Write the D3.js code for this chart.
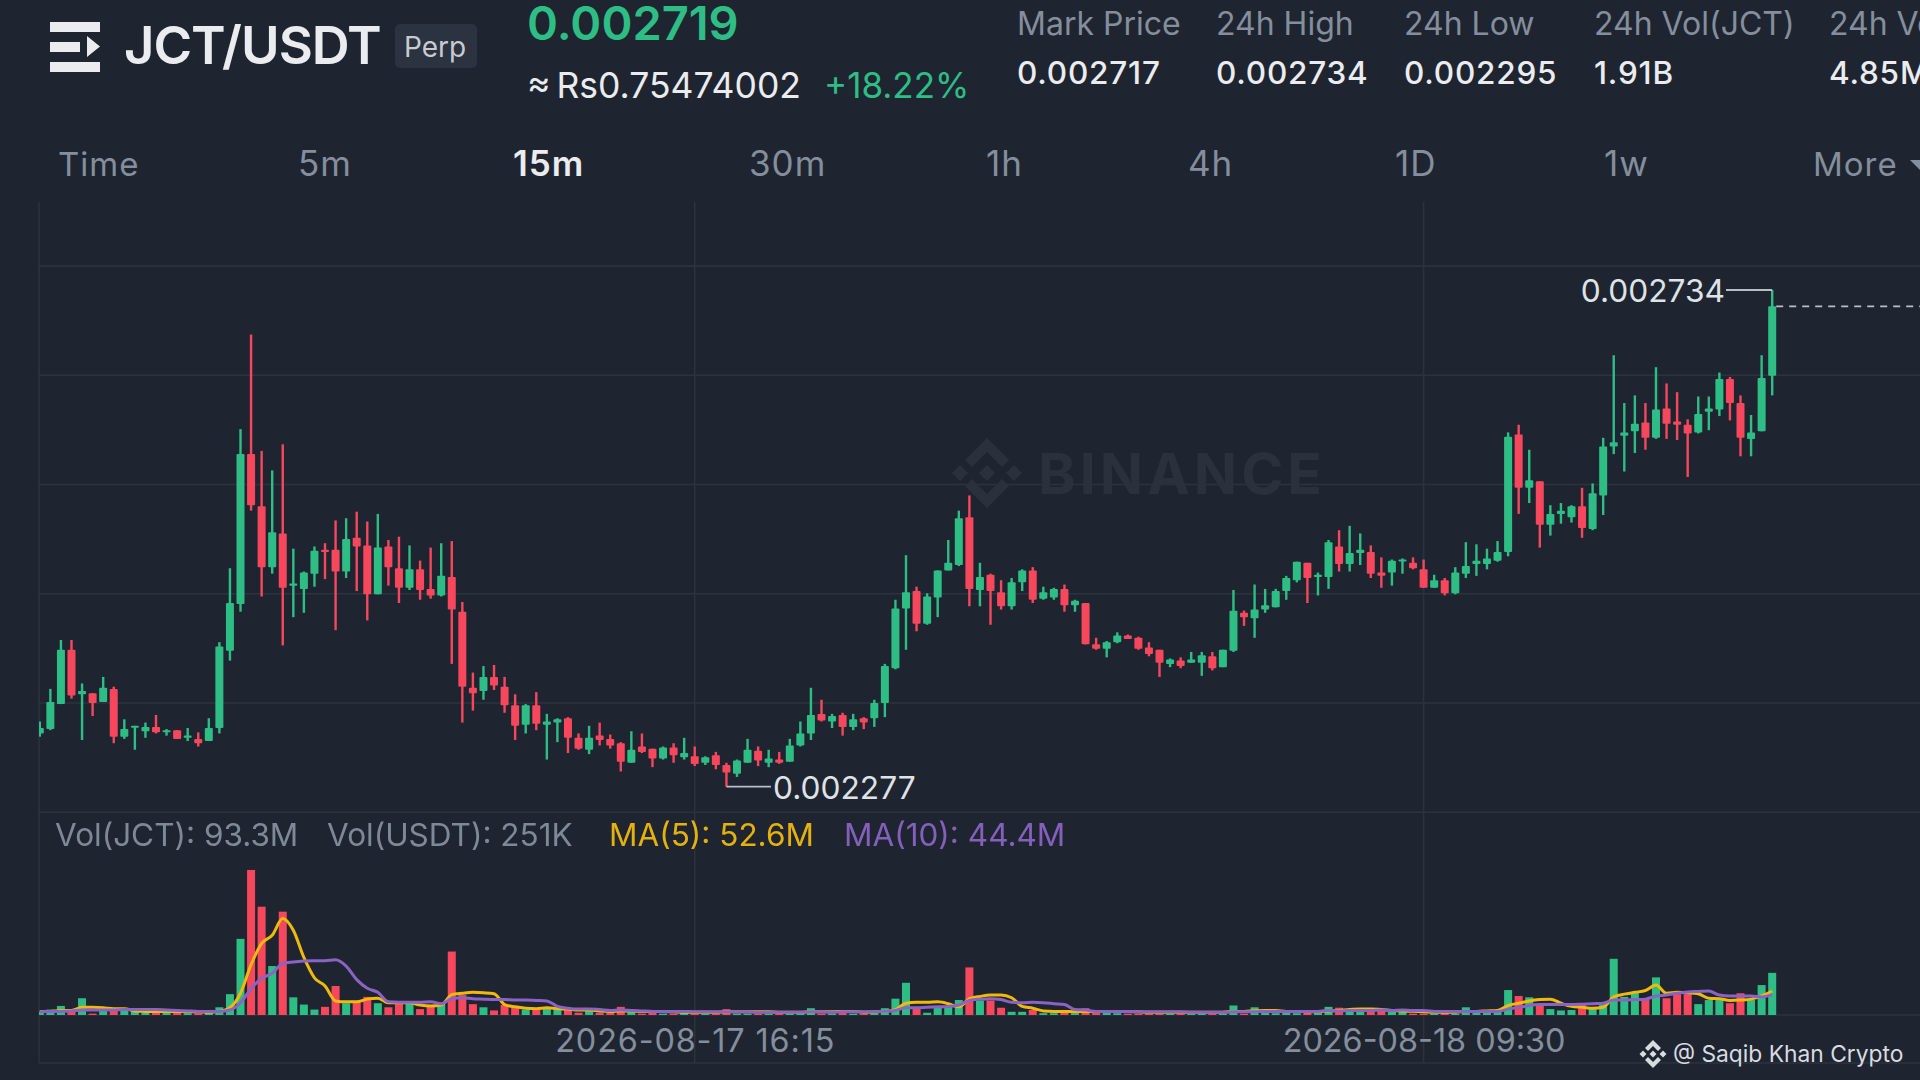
<!DOCTYPE html>
<html><head><meta charset="utf-8">
<script src="https://cdn.jsdelivr.net/npm/d3@7/dist/d3.min.js"></script>
<style>html,body{margin:0;padding:0;background:#1e2530;overflow:hidden}svg{display:block}text{font-family:Inter,"Noto Sans",sans-serif}</style>
</head><body><div id="c"></div>
<script>
// Prices are in millionths of USDT (2734 = 0.002734); volumes in millions of JCT.
const highs=[2337,2367,2412,2412,2372,2363,2378,2369,2339,2333,2336,2343,2330,2329,2331,2327,2340,2410,2478,2606,2693,2586,2568,2592,2496,2475,2498,2501,2522,2524,2530,2521,2528,2504,2507,2499,2485,2497,2501,2503,2447,2382,2388,2389,2378,2362,2353,2364,2344,2340,2341,2326,2333,2336,2325,2318,2328,2326,2312,2314,2317,2322,2314,2305,2309,2299,2302,2321,2314,2311,2309,2321,2337,2368,2357,2344,2345,2344,2341,2357,2390,2449,2490,2461,2455,2476,2504,2531,2545,2483,2473,2467,2469,2477,2479,2461,2460,2463,2449,2446,2414,2411,2419,2417,2415,2410,2403,2395,2396,2401,2401,2401,2403,2458,2439,2463,2459,2459,2471,2484,2483,2474,2504,2513,2517,2510,2499,2488,2486,2487,2488,2486,2472,2469,2479,2502,2500,2496,2503,2603,2610,2587,2558,2536,2538,2536,2552,2556,2598,2674,2630,2637,2630,2663,2648,2640,2615,2636,2636,2658,2654,2637,2619,2674,2734];
const lows=[2323,2329,2353,2358,2320,2342,2355,2317,2321,2311,2322,2326,2324,2321,2319,2314,2319,2326,2393,2438,2531,2452,2473,2407,2433,2437,2461,2468,2421,2469,2457,2430,2454,2462,2446,2458,2449,2450,2452,2390,2336,2347,2357,2366,2345,2320,2326,2329,2302,2318,2308,2311,2307,2315,2312,2291,2299,2308,2295,2302,2299,2302,2296,2297,2293,2277,2286,2299,2296,2295,2298,2300,2314,2320,2337,2331,2324,2329,2330,2332,2341,2385,2403,2420,2426,2433,2476,2480,2443,2443,2426,2440,2440,2457,2446,2449,2449,2438,2438,2408,2403,2396,2409,2413,2403,2397,2378,2387,2386,2391,2379,2384,2387,2401,2425,2414,2437,2442,2449,2465,2446,2453,2459,2475,2475,2481,2469,2460,2462,2473,2477,2460,2460,2453,2454,2469,2471,2477,2484,2489,2528,2538,2497,2508,2519,2520,2506,2513,2527,2583,2567,2584,2587,2597,2597,2596,2562,2602,2605,2618,2614,2581,2581,2604,2637];
const opens=[2326,2330,2353,2403,2362,2363,2355,2367,2323,2332,2328,2332,2327,2329,2322,2321,2319,2331,2402,2445,2583,2535,2479,2510,2462,2459,2473,2495,2495,2475,2506,2499,2454,2498,2478,2460,2477,2459,2453,2470,2438,2368,2365,2378,2369,2352,2334,2352,2334,2336,2340,2322,2311,2324,2321,2317,2299,2314,2312,2303,2313,2304,2305,2299,2306,2297,2289,2299,2310,2299,2302,2300,2315,2326,2344,2337,2343,2332,2340,2340,2354,2386,2441,2457,2427,2451,2476,2481,2525,2458,2472,2456,2443,2465,2476,2450,2451,2459,2444,2446,2408,2404,2410,2416,2414,2405,2403,2390,2393,2391,2391,2397,2387,2402,2437,2432,2440,2442,2457,2467,2483,2470,2470,2498,2482,2492,2493,2474,2474,2485,2483,2477,2460,2467,2455,2473,2482,2482,2485,2493,2601,2552,2558,2518,2528,2525,2535,2514,2545,2590,2600,2604,2612,2598,2625,2613,2610,2603,2622,2624,2652,2630,2597,2604,2655];
const closes=[2331,2355,2403,2361,2365,2354,2368,2323,2330,2333,2332,2327,2329,2321,2324,2317,2331,2406,2446,2583,2536,2479,2511,2460,2464,2474,2494,2493,2475,2505,2498,2454,2497,2479,2460,2477,2458,2453,2471,2440,2369,2363,2378,2370,2352,2333,2352,2335,2337,2339,2322,2312,2322,2320,2315,2300,2311,2309,2303,2313,2306,2308,2298,2304,2297,2290,2301,2311,2301,2303,2299,2315,2326,2343,2338,2342,2332,2339,2336,2354,2388,2441,2456,2427,2452,2476,2483,2524,2459,2470,2457,2443,2465,2476,2449,2456,2459,2444,2448,2408,2404,2410,2416,2413,2404,2399,2391,2394,2388,2394,2398,2386,2403,2439,2433,2440,2444,2457,2469,2484,2469,2472,2502,2482,2492,2495,2473,2471,2485,2486,2478,2460,2467,2455,2474,2480,2485,2487,2493,2599,2552,2559,2518,2528,2531,2535,2515,2547,2590,2594,2603,2611,2598,2624,2611,2610,2602,2620,2625,2652,2630,2598,2603,2653,2719];
const volumes=[7,12,20,11,37,3,10,12,10,10,5,10,5,5,4,4,5,17,46,168,320,239,108,228,39,23,12,18,64,26,27,40,26,17,26,26,13,20,24,140,44,24,17,10,22,16,12,11,17,12,11,5,10,5,5,18,7,3,7,3,3,5,3,3,3,13,3,3,3,3,3,3,5,15,3,3,10,3,3,5,15,36,71,15,5,17,18,33,105,32,32,16,7,7,11,4,4,7,4,15,7,7,4,3,3,3,3,3,3,3,5,3,3,21,3,17,5,4,10,4,7,7,18,16,11,11,11,11,7,7,3,3,3,7,3,17,10,10,11,55,42,39,24,13,10,11,26,15,24,124,40,49,33,83,37,46,46,24,33,33,26,48,33,66,93];
const ma5=[8,8,10,10,17,17,16,14,14,9,8,8,8,8,7,7,6,8,16,48,111,158,176,213,187,127,82,64,31,29,29,35,37,27,27,27,22,20,22,45,48,50,49,47,23,18,15,14,16,14,13,11,11,9,8,9,9,8,8,8,7,6,6,6,6,7,7,7,7,7,6,6,6,7,7,7,8,8,6,7,8,12,26,28,28,29,25,18,36,41,44,44,38,19,15,9,8,8,7,8,8,8,8,8,7,6,6,6,6,6,6,6,6,8,8,9,10,10,8,8,7,7,9,10,12,13,13,12,10,9,8,7,6,6,6,8,8,9,10,21,26,31,34,35,26,19,17,15,17,40,46,50,54,66,48,50,49,47,37,36,32,33,35,42,53];
const ma10=[7,8,8,9,11,11,11,11,12,12,12,12,11,10,9,8,8,8,11,27,58,81,92,114,117,119,120,120,122,108,78,59,50,29,28,28,28,29,25,36,38,36,35,34,34,33,33,32,31,19,15,13,13,12,10,11,10,9,8,8,8,8,7,7,7,7,7,7,6,6,6,6,6,7,7,6,7,7,7,7,8,10,16,16,17,18,19,22,32,35,36,34,28,27,28,27,25,23,12,11,8,8,8,8,7,7,7,7,7,6,6,6,6,7,7,7,8,8,8,8,8,8,10,9,10,10,10,11,10,11,10,10,8,8,8,8,8,8,8,13,17,21,23,23,23,23,24,25,26,33,33,34,35,42,44,48,51,52,53,44,42,42,42,40,45];
const gridPrices=[2756,2655.5,2555,2454.5,2354,2253.5];
const dateTicks=[62,131];
const dateLabels=["2026-08-17 16:15","2026-08-18 09:30"];
const highLabel="0.002734", lowLabel="0.002277", lastPrice=2719;
const tabs=["Time","5m","15m","30m","1h","4h","1D","1w","More"];
const tabX=[58,298,513,749,986,1188,1395,1604,1813];
const statHeads=["Mark Price","24h High","24h Low","24h Vol(JCT)","24h Vol(USDT)"];
const statVals=["0.002717","0.002734","0.002295","1.91B","4.85M"];
const statX=[1017,1216,1404,1594,1829];

const W=1920,H=1080,UP="#2ebd85",DOWN="#f6465d",GRID="#2c333e",GREY="#848e9c",WHITE="#eaecef",LABEL="#dfe2e6";
const svg=d3.select("#c").append("svg").attr("width",W).attr("height",H);
svg.append("rect").attr("width",W).attr("height",H).attr("fill","#1e2530");
const idx=d3.range(highs.length);
const x=d3.scaleLinear().domain([0,131]).range([39.8,1423.6]);
const y=d3.scaleLinear().domain([2734,2277]).range([290,786.7]);
const v=d3.scaleLinear().domain([0,320]).range([1015,870]);

const defs=svg.append("defs");
defs.append("filter").attr("id","soft").append("feGaussianBlur").attr("stdDeviation",0.55);
defs.append("clipPath").attr("id","plot").append("rect").attr("x",39).attr("y",200).attr("width",W).attr("height",900);

// frame + grid
const grid=svg.append("g").attr("stroke",GRID).attr("stroke-width",1.6);
grid.selectAll(".h").data(gridPrices).join("line").attr("x1",39).attr("x2",W).attr("y1",d=>y(d)).attr("y2",d=>y(d));
grid.append("line").attr("x1",39).attr("x2",W).attr("y1",1063).attr("y2",1063);
grid.append("line").attr("x1",39).attr("x2",W).attr("y1",v(0)).attr("y2",v(0));
grid.selectAll(".v").data([0,...dateTicks]).join("line").attr("x1",(d,i)=>i?x(d):39).attr("x2",(d,i)=>i?x(d):39).attr("y1",202).attr("y2",1063);

// watermark
const wm=svg.append("g").attr("fill","#2a313c");
wm.append("path").attr("d","M987 438 l22 22 -7 7 -15 -15 -15 15 -7 -7z M987 508 l22 -22 -7 -7 -15 15 -15 -15 -7 7z M987 465 l8 8 -8 8 -8 -8z M960 465 l8 8 -8 8 -8 -8z M1014 465 l8 8 -8 8 -8 -8z");
wm.append("text").attr("x",1038).attr("y",494).attr("font-size",57).attr("font-weight",700).attr("letter-spacing",4).text("BINANCE");

const plot=svg.append("g").attr("clip-path","url(#plot)");
const marks=plot.append("g").attr("filter","url(#soft)");
const col=i=>closes[i]>=opens[i]?UP:DOWN;
// candles
marks.selectAll(".w").data(idx).join("rect").attr("x",i=>x(i)-1.2).attr("width",2.4)
 .attr("y",i=>y(highs[i])).attr("height",i=>y(lows[i])-y(highs[i])).attr("fill",col);
marks.selectAll(".b").data(idx).join("rect").attr("x",i=>x(i)-4).attr("width",8).attr("rx",1)
 .attr("y",i=>y(Math.max(opens[i],closes[i]))).attr("height",i=>Math.max(2,Math.abs(y(opens[i])-y(closes[i])))).attr("fill",col);
// volumes
marks.selectAll(".vb").data(idx).join("rect").attr("x",i=>x(i)-4).attr("width",8)
 .attr("y",i=>v(volumes[i])).attr("height",i=>v(0)-v(volumes[i])).attr("fill",col);
const ln=a=>d3.line().x((d,i)=>x(i)).y(d=>v(d)).curve(d3.curveMonotoneX)(a);
marks.append("path").attr("d",ln(ma5)).attr("fill","none").attr("stroke","#f0b90b").attr("stroke-width",3);
marks.append("path").attr("d",ln(ma10)).attr("fill","none").attr("stroke","#8a63c4").attr("stroke-width",3);

// high / low leaders
const lastI=highs.length-1, lowI=lows.indexOf(d3.min(lows));
const lead=svg.append("g").attr("fill","none").attr("stroke","#b9bdc4").attr("stroke-width",1.8);
lead.append("path").attr("d",`M1726 ${y(highs[lastI])}H${x(lastI)}`);
lead.append("path").attr("d",`M${x(lowI)} ${y(lows[lowI])}H771`);
lead.append("path").attr("d",`M${x(lastI)+4} ${y(lastPrice)}H${W}`).attr("stroke-dasharray","7 6");
const lab=svg.append("g").attr("fill",LABEL).attr("font-size",31.7);
lab.append("text").attr("x",1725).attr("y",y(highs[lastI])+12).attr("text-anchor","end").text(highLabel);
lab.append("text").attr("x",773).attr("y",y(lows[lowI])+12).text(lowLabel);

// volume legend
const vl=svg.append("g").attr("font-size",31.5);
[["Vol(JCT): 93.3M",55,GREY],["Vol(USDT): 251K",327,GREY],["MA(5): 52.6M",609,"#f0b90b"],["MA(10): 44.4M",844,"#8a63c4"]]
 .forEach(t=>vl.append("text").attr("x",t[1]).attr("y",846).attr("fill",t[2]).attr("opacity",.95).text(t[0]));

// date axis
const axis=d3.axisBottom(x).tickValues(dateTicks).tickSize(0).tickPadding(0).tickFormat((d,i)=>dateLabels[i]);
const ag=svg.append("g").attr("transform","translate(0,1052)").call(axis);
ag.select(".domain").remove();
ag.selectAll("text").attr("fill",GREY).attr("font-size",32.4).attr("font-family","Inter").attr("font-feature-settings","'tnum'").attr("letter-spacing",(d,i)=>i?0:.85).attr("y",0).attr("dy",0);

// attribution
const at=svg.append("g").attr("fill","#d8dbe0");
at.append("path").attr("d","M1653 1040 l8 8 -3 3 -5 -5 -5 5 -3 -3z M1653 1068 l8 -8 -3 -3 -5 5 -5 -5 -3 3z M1653 1050.500 l3.500 3.500 -3.500 3.500 -3.500 -3.500z M1643 1050.500 l3.500 3.500 -3.500 3.500 -3.500 -3.500z M1663 1050.500 l3.500 3.500 -3.500 3.500 -3.500 -3.500z");
at.append("text").attr("x",1673).attr("y",1062).attr("font-size",22.8).attr("font-family","Noto Sans").text("@ Saqib Khan Crypto");

// header
const hd=svg.append("g");
hd.append("path").attr("fill",WHITE).attr("d","M50 22h50v10H50z M50 42h30v10H50z M87 36l13 10.500-13 10.500z M50 62h50v10H50z");
hd.append("text").attr("x",124).attr("y",64).attr("font-size",52.5).attr("font-weight",600).attr("fill",WHITE).attr("letter-spacing",-1).text("JCT/USDT");
hd.append("rect").attr("x",395).attr("y",24).attr("width",82).attr("height",44).attr("rx",5).attr("fill","#2b3240");
hd.append("text").attr("x",404).attr("y",57).attr("font-size",28).attr("fill","#c7cbd1").text("Perp");
hd.append("text").attr("x",527).attr("y",40).attr("font-size",47).attr("font-weight",600).attr("fill",UP).text("0.002719");
hd.append("text").attr("x",527).attr("y",98).attr("font-size",35.5).attr("word-spacing",-4).attr("fill",WHITE).text("≈ Rs0.75474002");
hd.append("text").attr("x",824).attr("y",98).attr("font-size",35).attr("fill",UP).text("+18.22%");
statHeads.forEach((s,i)=>{
 hd.append("text").attr("x",statX[i]).attr("y",35).attr("font-size",32).attr("fill",GREY).text(s);
 hd.append("text").attr("x",statX[i]).attr("y",84).attr("font-size",31.5).attr("font-weight",500).attr("letter-spacing",.8).attr("font-feature-settings","'tnum'").attr("fill",WHITE).text(statVals[i]);
});
tabs.forEach((s,i)=>hd.append("text").attr("x",tabX[i]).attr("y",176).attr("font-size",(s==="Time"||s==="More")?33:35).attr("letter-spacing",1)
 .attr("font-feature-settings","'tnum'").attr("font-weight",s==="15m"?600:400).attr("fill",s==="15m"?WHITE:GREY).text(s));
hd.append("path").attr("fill",GREY).attr("d","M1910 160h10v10z");
</script></body></html>
